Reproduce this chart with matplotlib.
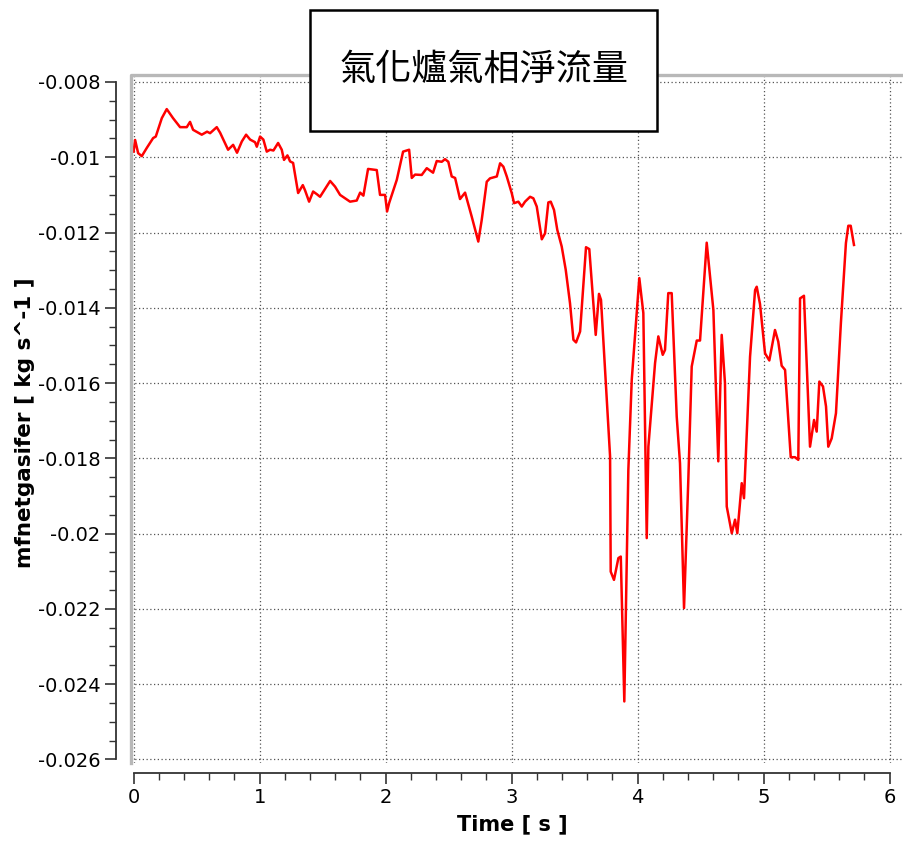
import numpy as np
import matplotlib.pyplot as plt
from matplotlib.patches import Rectangle
from matplotlib.ticker import MultipleLocator, FixedLocator, FixedFormatter

plt.rcParams['font.family'] = ['DejaVu Sans']

# --- data ---
time_s = [0.000, 0.012, 0.036, 0.065, 0.105, 0.155, 0.176, 0.224, 0.263, 0.313,
          0.369, 0.422, 0.448, 0.472, 0.541, 0.583, 0.607, 0.660, 0.687, 0.750,
          0.790, 0.821, 0.859, 0.893, 0.925, 0.964, 0.978, 1.004, 1.030, 1.057,
          1.083, 1.110, 1.147, 1.176, 1.194, 1.221, 1.242, 1.266, 1.306, 1.343,
          1.361, 1.393, 1.425, 1.454, 1.480, 1.560, 1.599, 1.639, 1.718, 1.771,
          1.798, 1.824, 1.861, 1.930, 1.956, 1.996, 2.012, 2.028, 2.089, 2.139,
          2.187, 2.208, 2.234, 2.287, 2.327, 2.377, 2.406, 2.446, 2.472, 2.498,
          2.525, 2.552, 2.591, 2.631, 2.684, 2.736, 2.763, 2.803, 2.829, 2.883,
          2.909, 2.935, 2.962, 3.002, 3.020, 3.054, 3.081, 3.107, 3.147, 3.173,
          3.200, 3.240, 3.266, 3.292, 3.311, 3.337, 3.363, 3.398, 3.430, 3.464,
          3.491, 3.512, 3.544, 3.575, 3.591, 3.617, 3.668, 3.694, 3.710, 3.782,
          3.787, 3.813, 3.848, 3.867, 3.895, 3.927, 3.954, 4.014, 4.046, 4.073,
          4.086, 4.139, 4.165, 4.200, 4.218, 4.244, 4.271, 4.311, 4.337, 4.369,
          4.403, 4.430, 4.470, 4.496, 4.549, 4.602, 4.641, 4.668, 4.694, 4.708,
          4.748, 4.774, 4.792, 4.827, 4.845, 4.893, 4.933, 4.946, 4.972, 5.012,
          5.046, 5.091, 5.117, 5.144, 5.171, 5.216, 5.250, 5.276, 5.290, 5.321,
          5.369, 5.401, 5.422, 5.443, 5.472, 5.496, 5.514, 5.541, 5.575, 5.614,
          5.654, 5.673, 5.692, 5.718]

mfnet = [-0.00985, -0.00954, -0.00989, -0.00997, -0.00975, -0.00949, -0.00945, -0.00896, -0.00872, -0.00896,
         -0.00920, -0.00920, -0.00906, -0.00927, -0.00940, -0.00932, -0.00936, -0.00920, -0.00935, -0.00980,
         -0.00967, -0.00988, -0.00958, -0.00940, -0.00953, -0.00960, -0.00972, -0.00945, -0.00953, -0.00985,
         -0.00980, -0.00982, -0.00962, -0.00980, -0.01007, -0.00995, -0.01011, -0.01015, -0.01095, -0.01074,
         -0.01088, -0.01118, -0.01091, -0.01098, -0.01105, -0.01063, -0.01078, -0.01100, -0.01118, -0.01115,
         -0.01094, -0.01102, -0.01031, -0.01034, -0.01100, -0.01100, -0.01144, -0.01122, -0.01060, -0.00985,
         -0.00980, -0.01055, -0.01046, -0.01047, -0.01029, -0.01041, -0.01010, -0.01012, -0.01005, -0.01012,
         -0.01051, -0.01055, -0.01111, -0.01094, -0.01158, -0.01224, -0.01167, -0.01065, -0.01056, -0.01051,
         -0.01016, -0.01025, -0.01051, -0.01096, -0.01122, -0.01118, -0.01131, -0.01118, -0.01105, -0.01109,
         -0.01131, -0.01218, -0.01202, -0.01120, -0.01118, -0.01140, -0.01193, -0.01237, -0.01299, -0.01388,
         -0.01485, -0.01492, -0.01463, -0.01317, -0.01239, -0.01244, -0.01472, -0.01363, -0.01379, -0.01795,
         -0.02101, -0.02123, -0.02065, -0.02061, -0.02446, -0.01831, -0.01591, -0.01321, -0.01414, -0.02012,
         -0.01769, -0.01547, -0.01476, -0.01525, -0.01512, -0.01361, -0.01361, -0.01689, -0.01813, -0.02198,
         -0.01857, -0.01556, -0.01487, -0.01487, -0.01227, -0.01406, -0.01808, -0.01472, -0.01600, -0.01928,
         -0.01999, -0.01963, -0.01999, -0.01866, -0.01906, -0.01530, -0.01353, -0.01344, -0.01390, -0.01521,
         -0.01540, -0.01459, -0.01490, -0.01554, -0.01565, -0.01797, -0.01797, -0.01804, -0.01375, -0.01368,
         -0.01769, -0.01698, -0.01729, -0.01596, -0.01609, -0.01662, -0.01769, -0.01747, -0.01680, -0.01441,
         -0.01228, -0.01182, -0.01182, -0.01233]

xticks = [0, 1, 2, 3, 4, 5, 6]
yticks = [-0.008, -0.010, -0.012, -0.014, -0.016, -0.018, -0.020, -0.022, -0.024, -0.026]
ytick_labels = ['-0.008', '-0.01', '-0.012', '-0.014', '-0.016', '-0.018', '-0.02',
                '-0.022', '-0.024', '-0.026']
title = '氣化爐氣相淨流量'

# --- figure ---
fig = plt.figure(figsize=(9.04, 8.41), dpi=100)
ax = fig.add_axes([0.145, 0.093, 0.855, 0.818])

ax.plot(time_s, mfnet, color='#ff0000', lw=1.8, zorder=3)

ax.set_xlim(-0.02, 6.115)
ax.set_ylim(-0.02609, -0.00781)

ax.xaxis.set_major_locator(FixedLocator(xticks))
ax.xaxis.set_minor_locator(MultipleLocator(0.2))
ax.yaxis.set_major_locator(FixedLocator(yticks))
ax.yaxis.set_major_formatter(FixedFormatter(ytick_labels))
ax.yaxis.set_minor_locator(MultipleLocator(0.0005))

ax.grid(True, which='major', color='#555555', linestyle=(0, (1, 2)), lw=0.9)

# axis lines with ticks sit apart from the plot frame
for side in ['top', 'right']:
    ax.spines[side].set_visible(False)
ax.spines['left'].set_position(('outward', 11))
ax.spines['bottom'].set_position(('outward', 7))
ax.spines['left'].set_bounds(-0.026, -0.008)
ax.spines['bottom'].set_bounds(0, 6)
for side in ['left', 'bottom']:
    ax.spines[side].set_color('#333333')
    ax.spines[side].set_linewidth(1.3)

ax.tick_params(which='major', length=8, width=1.2, color='#333333', labelsize=14, pad=3)
ax.tick_params(which='minor', length=5, width=1.0, color='#333333')

# grey frame on the left and top of the plot area
ax.plot([0, 0, 1], [0, 1, 1], transform=ax.transAxes, color='#b8b8b8',
        lw=2.4, zorder=4, clip_on=False)

ax.set_xlabel('Time [ s ]', fontsize=15, fontweight='bold')
ax.set_ylabel('mfnetgasifer [ kg s^-1 ]', fontsize=15.5, fontweight='bold')
ax.xaxis.set_label_coords(0.493, -0.075)
ax.yaxis.set_label_coords(-0.124, 0.495)

# title box
fig.patches.append(Rectangle((0.343, 0.8442), 0.384, 0.1439, transform=fig.transFigure,
                             facecolor='white', edgecolor='black', lw=1.8, zorder=5))
fig.text(0.535, 0.917, title, ha='center', va='center', fontsize=26,
         family=['Noto Sans CJK TC', 'DejaVu Sans'], zorder=6)

fig.savefig('out.png', dpi=100)
